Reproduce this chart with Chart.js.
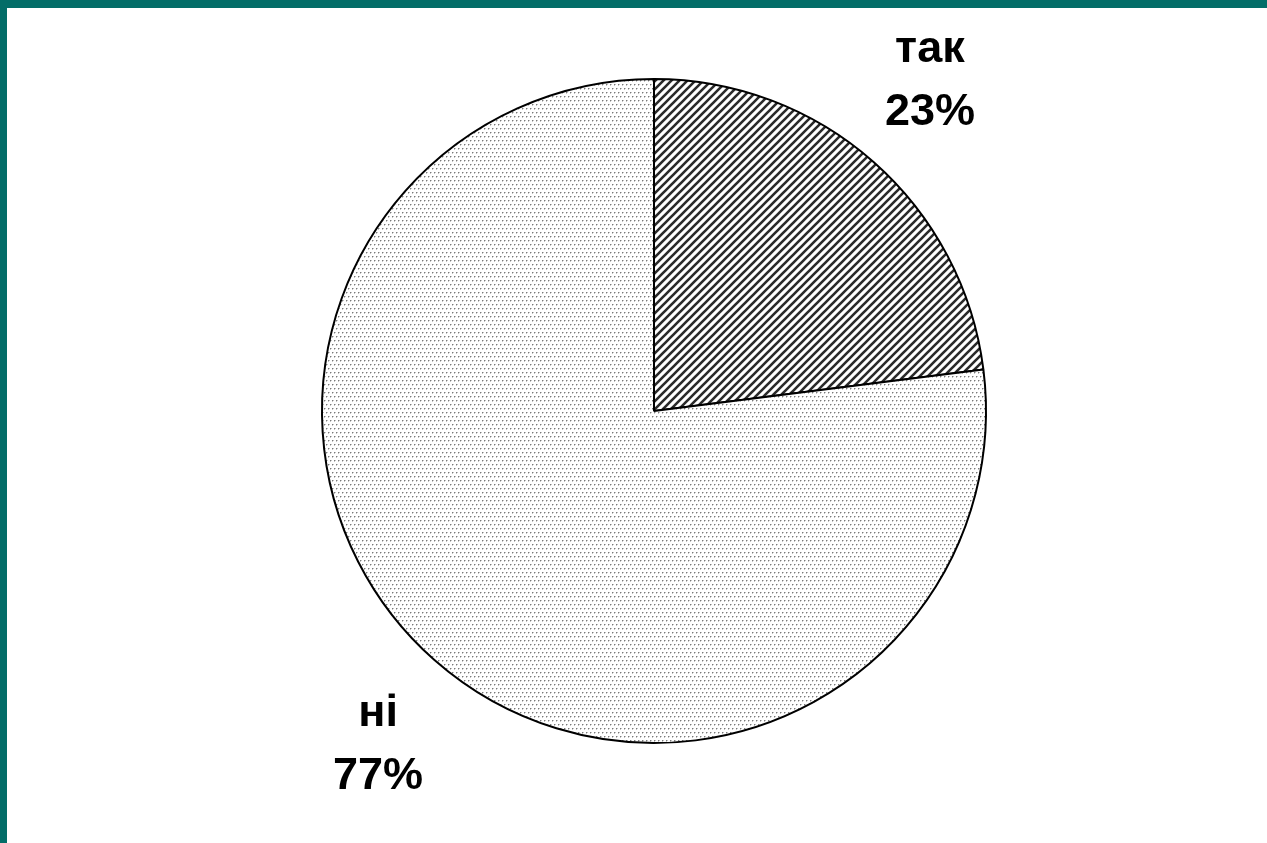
<!DOCTYPE html>
<html>
<head>
<meta charset="utf-8">
<script src="https://cdn.jsdelivr.net/npm/chart.js@4/dist/chart.umd.min.js"></script>
<style>
  html, body { margin: 0; padding: 0; background: #fff; overflow: hidden; }
  #wrap { position: relative; width: 1267px; height: 843px; }
  #pie { position: absolute; left: 0; top: 0; }
  .bar-top { position: absolute; left: 0; top: 0; width: 1267px; height: 8px; background: #036d68; }
  .bar-left { position: absolute; left: 0; top: 0; width: 7px; height: 843px; background: #036d68; }
</style>
</head>
<body>
<div id="wrap">
  <canvas id="pie" width="1267" height="843"></canvas>
  <div class="bar-top"></div>
  <div class="bar-left"></div>
</div>
<script>
const labels = ['так', 'ні'];
const values = [23, 77];

(function () {
    function hatch() {
        const c = document.createElement('canvas');
        c.width = 8; c.height = 8;
        const g = c.getContext('2d');
        g.fillStyle = '#fff';
        g.fillRect(0, 0, 8, 8);
        g.strokeStyle = '#2a2a2a';
        g.lineWidth = 2.6;
        g.beginPath();
        g.moveTo(-2, 10); g.lineTo(10, -2);
        g.moveTo(-6, 6); g.lineTo(6, -6);
        g.moveTo(2, 14); g.lineTo(14, 2);
        g.stroke();
        return g.createPattern(c, 'repeat');
    }

    function dots() {
        const c = document.createElement('canvas');
        c.width = 4; c.height = 8;
        const g = c.getContext('2d');
        g.fillStyle = '#fff';
        g.fillRect(0, 0, 4, 8);
        g.fillStyle = '#7a7a7a';
        g.fillRect(0, 0, 1, 1);
        g.fillRect(2, 4, 1, 1);
        g.fillStyle = '#c4c4c4';
        g.fillRect(1, 0, 1, 1);
        g.fillRect(3, 4, 1, 1);
        g.fillRect(0, 1, 1, 1);
        g.fillRect(2, 5, 1, 1);
        return g.createPattern(c, 'repeat');
    }

    const total = values.reduce((a, b) => a + b, 0);

    const outsideLabels = {
        id: 'outsideLabels',
        afterDatasetsDraw(chart) {
            const ctx = chart.ctx;
            const meta = chart.getDatasetMeta(0);
            ctx.save();
            ctx.fillStyle = '#000';
            ctx.textAlign = 'center';
            ctx.textBaseline = 'alphabetic';
            ctx.font = 'bold 45px "Liberation Sans", Arial, sans-serif';
            meta.data.forEach((arc, i) => {
                const mid = (arc.startAngle + arc.endAngle) / 2 - 0.029;
                const r = arc.outerRadius * 1.30;
                const x = arc.x + Math.cos(mid) * r;
                const y = arc.y + Math.sin(mid) * r;
                const pct = Math.round(values[i] / total * 100) + '%';
                ctx.fillText(labels[i], x, y - 17);
                ctx.fillText(pct, x, y + 46);
            });
            ctx.restore();
        }
    };

    new Chart(document.getElementById('pie').getContext('2d'), {
        type: 'pie',
        data: {
            labels,
            datasets: [{
                data: values,
                backgroundColor: [hatch(), dots()],
                borderColor: '#000',
                borderWidth: 2
            }]
        },
        options: {
            responsive: false,
            animation: false,
            devicePixelRatio: 1,
            layout: { padding: { top: 78, bottom: 99, left: 321, right: 280 } },
            plugins: {
                legend: { display: false },
                tooltip: { enabled: false }
            }
        },
        plugins: [outsideLabels]
    });
})();
</script>
</body>
</html>
